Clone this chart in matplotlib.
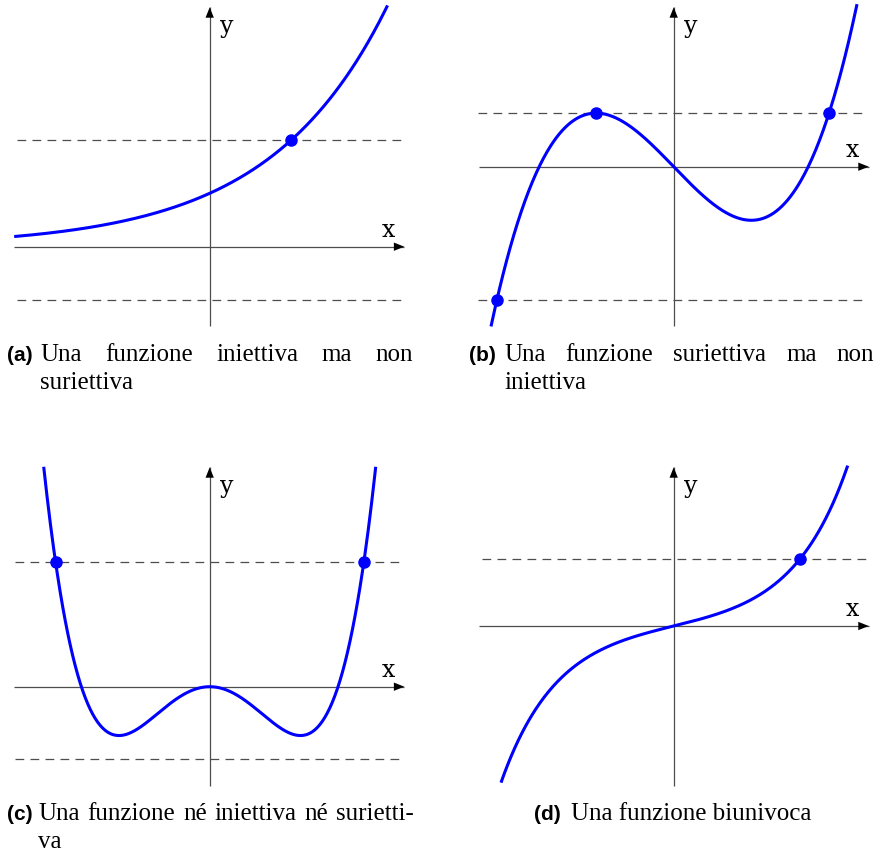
import numpy as np
import matplotlib.pyplot as plt

W, H, DPI = 882, 853, 100
UNIT = 50.0  # pixels per data unit

# -----------------------------
# Data (data units)
# -----------------------------
# (a) exponential: y = EXP_A * exp(EXP_B * x)
EXP_A, EXP_B = 1.068, 0.424
A_RANGE = (-3.91, 3.557)
A_LEVELS = [2.14, -1.066]
A_PTS_X, A_PTS_Y = [1.632], [2.14]

# (b) cubic, polynomial coefficients (highest first)
B_COEF = [0.143, 0.0, -1.035, 0.0]
B_RANGE = (-3.654, 3.666)
B_LEVELS = [1.074, -2.666]
B_PTS_X, B_PTS_Y = [-1.548, 3.1, -3.534], [1.074, 1.074, -2.666]

# (c) quartic
C_COEF = [0.09, 0.0, -0.593, 0.0, 0.0]
C_RANGE = (-3.32, 3.32)
C_LEVELS = [2.5, -1.452]
C_PTS_X, C_PTS_Y = [-3.074, 3.086], [2.5, 2.5]

# (d) y = SINH_A * sinh(SINH_B * x)
SINH_A, SINH_B = 0.2756, 0.905
D_RANGE = (-3.454, 3.48)
D_LEVELS = [1.334]
D_PTS_X, D_PTS_Y = [2.52], [1.334]

CAPTIONS = [
    ("(a)", "Una funzione iniettiva ma non", "suriettiva"),
    ("(b)", "Una funzione suriettiva ma non", "iniettiva"),
    ("(c)", "Una funzione né iniettiva né surietti-", "va"),
    ("(d)", "Una funzione biunivoca", None),
]

BLUE = "#0000ff"
GRAY = "#4d4d4d"


def make_axes(fig, box, origin):
    """box = (left, top, width, height) in pixels, origin = axes origin in pixels."""
    x0, y0, w, h = box
    ox, oy = origin
    ax = fig.add_axes([x0 / W, 1 - (y0 + h) / H, w / W, h / H])
    ax.set_xlim((x0 - ox) / UNIT, (x0 + w - ox) / UNIT)
    ax.set_ylim((oy - (y0 + h)) / UNIT, (oy - y0) / UNIT)
    ax.set_axis_off()
    return ax


def draw_frame(ax, xspan, yspan, levels, dash_span):
    # axes with arrow heads
    ax.plot(xspan, [0, 0], color=GRAY, lw=0.9, zorder=1, solid_capstyle="butt")
    ax.plot([0, 0], yspan, color=GRAY, lw=0.9, zorder=1, solid_capstyle="butt")
    arrow = dict(arrowstyle="-|>,head_length=0.75,head_width=0.3", color="black",
                 lw=0, shrinkA=0, shrinkB=0, mutation_scale=10)
    ax.annotate("", xy=(xspan[1], 0), xytext=(xspan[1] - 0.3, 0), arrowprops=arrow)
    ax.annotate("", xy=(0, yspan[1]), xytext=(0, yspan[1] - 0.3), arrowprops=arrow)
    for lv in levels:
        ax.plot(dash_span, [lv, lv], color=GRAY, lw=0.9, dashes=(7, 5), zorder=1)
    lab = dict(fontsize=17, family="DejaVu Serif", ha="center", va="center")
    ax.text(0.34, yspan[1] - 0.36, "y", **lab)
    ax.text(xspan[1] - 0.32, 0.34, "x", **lab)


def draw_curve(ax, xs, ys, px, py):
    ax.plot(xs, ys, color=BLUE, lw=2.2, zorder=3, solid_capstyle="butt")
    ax.plot(px, py, "o", color=BLUE, ms=8, zorder=4)


fig = plt.figure(figsize=(W / DPI, H / DPI), dpi=DPI)

# (a)
ax = make_axes(fig, (0, 0, 441, 335), (209.7, 247.7))
draw_frame(ax, (-3.908, 3.892), (-1.586, 4.788), A_LEVELS, (-3.86, 3.926))
xs = np.linspace(*A_RANGE, 400)
draw_curve(ax, xs, EXP_A * np.exp(EXP_B * xs), A_PTS_X, A_PTS_Y)

# (b)
ax = make_axes(fig, (441, 0, 441, 335), (673.7, 167.7))
draw_frame(ax, (-3.9, 3.9), (-3.192, 3.188), B_LEVELS, (-3.92, 3.812))
xs = np.linspace(*B_RANGE, 400)
draw_curve(ax, xs, np.polyval(B_COEF, xs), B_PTS_X, B_PTS_Y)

# (c)
ax = make_axes(fig, (0, 455, 441, 335), (209.7, 687.7))
draw_frame(ax, (-3.908, 3.892), (-1.98, 4.388), C_LEVELS, (-3.9, 3.906))
xs = np.linspace(*C_RANGE, 400)
draw_curve(ax, xs, np.polyval(C_COEF, xs), C_PTS_X, C_PTS_Y)

# (d)
ax = make_axes(fig, (441, 455, 441, 335), (673.7, 627))
draw_frame(ax, (-3.9, 3.9), (-3.194, 3.174), D_LEVELS, (-3.84, 3.926))
xs = np.linspace(*D_RANGE, 400)
draw_curve(ax, xs, SINH_A * np.sinh(SINH_B * xs), D_PTS_X, D_PTS_Y)

# -----------------------------
# Captions (pixel layout)
# -----------------------------
renderer = fig.canvas.get_renderer()
TXT = dict(fontsize=18, family="Liberation Serif", va="baseline")
LBL = dict(fontsize=15, family="Liberation Sans", weight="bold", va="baseline")


def put(x, y, s, **kw):
    return fig.text(x / W, 1 - y / H, s, **kw)


def justified(words, x0, x1, y):
    texts = [put(0, y, w, **TXT) for w in words]
    widths = [t.get_window_extent(renderer).width for t in texts]
    gap = (x1 - x0 - sum(widths)) / (len(words) - 1)
    x = x0
    for t, w in zip(texts, widths):
        t.set_position((x / W, 1 - y / H))
        x += w + gap


layout = [  # label x, text x0, text x1, baseline
    (7, 40, 413, 361),
    (469, 504, 874, 361),
    (7, 38, 414, 820),
]
for (lab, line1, line2), (lx, tx0, tx1, base) in zip(CAPTIONS[:3], layout):
    put(lx, base, lab, **LBL)
    justified(line1.split(" "), tx0, tx1, base)
    put(tx0, base + 28, line2, **TXT)

# (d) centred under the panel
lab, line1, _ = CAPTIONS[3]
tl = put(0, 820, lab, **LBL)
tt = put(0, 820, line1, **TXT)
wl = tl.get_window_extent(renderer).width
wt = tt.get_window_extent(renderer).width
gap = 10
start = 673 - (wl + gap + wt) / 2
tl.set_position((start / W, 1 - 820 / H))
tt.set_position(((start + wl + gap) / W, 1 - 820 / H))

fig.savefig("out.png", dpi=DPI)
